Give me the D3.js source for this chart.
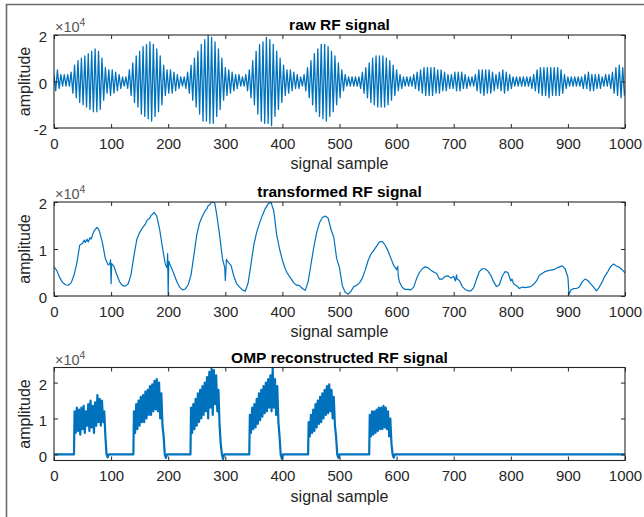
<!DOCTYPE html>
<html>
<head>
<meta charset="utf-8">
<script src="https://cdn.jsdelivr.net/npm/d3@7"></script>
<style>
  body { margin: 0; background: #fff; }
  svg { display: block; font-family: "Liberation Sans", Arial, Helvetica, sans-serif; }
</style>
</head>
<body>
<svg id="fig" width="644" height="517"></svg>
<script>
// ---------------------------------------------------------------
// Data (amplitudes in thousands; the axes show them as x10^4)
// ---------------------------------------------------------------
const sampleTicks = [0, 100, 200, 300, 400, 500, 600, 700, 800, 900, 1000];
const rawTicks = [-20, 0, 20];
const transformedTicks = [0, 10, 20];
const ompTicks = [0, 10, 20];

// raw RF signal: successive signed extremes, one every 3 samples
const rawStep = 3;
const rawExtremes = [
   3, -4,  5, -3,  3, -2,  3, -2,  3, -2,
   4, -5,  7, -7,  9, -9, 10,-10, 11,-11,
  12,-12, 13,-13, 14,-13, 13,-12, 10, -8,
   6, -5,  5, -6,  5, -5,  4, -4,  3, -3,
   2, -2,  2, -3,  5, -6,  8, -9, 11,-11,
  13,-14, 15,-15, 16,-16, 17,-17, 16,-15,
  14,-13, 11,-10,  7, -6,  5, -5,  5, -5,
   4, -4,  3, -3,  2, -2,  2, -3,  4, -5,
   7, -8, 10,-11, 13,-14, 16,-17, 18,-17,
  20,-18, 19,-18, 17,-15, 14,-12, 10, -8,
   6, -6,  5, -5,  4, -4,  3, -3,  3, -2,
   2, -2,  3, -4,  5, -7,  9,-10, 13,-14,
  16,-17, 17,-18, 19,-18, 18,-19, 16,-15,
  13,-12, 10, -9,  7, -6,  5, -5,  5, -4,
   4, -3,  3, -3,  2, -2,  3, -4,  6, -7,
   9,-10, 12,-13, 14,-15, 16,-16, 16,-17,
  15,-15, 13,-13, 11,-10,  8, -7,  5, -4,
   3, -2,  2, -2,  2, -2,  2, -2,  2, -3,
   4, -5,  6, -7,  8, -9, 10,-10, 11,-11,
  11,-11, 11,-11, 10,-10,  9, -8,  7, -6,
   5, -4,  3, -3,  2, -2,  2, -2,  2, -2,
   3, -3,  4, -4,  5, -5,  6, -6,  6, -6,
   6, -6,  6, -5,  5, -5,  5, -4,  4, -4,
   3, -3,  3, -3,  4, -4,  4, -4,  4, -3,
   3, -3,  2, -2,  2, -2,  3, -4,  5, -5,
   5, -6,  5, -5,  5, -5,  4, -4,  3, -3,
   4, -4,  5, -5,  4, -4,  3, -3,  2, -2,
   2, -2,  2, -2,  2, -2,  2, -2,  2, -3,
   3, -4,  5, -5,  6, -6,  6, -6,  6, -7,
   6, -6,  6, -6,  6, -6,  5, -5,  3, -3,
   2, -2,  2, -2,  2, -2,  2, -2,  2, -3,
   3, -3,  4, -4,  3, -4,  3, -3,  3, -3,
   2, -2,  3, -2,  3, -3,  4, -5,  6, -6,
   7, -7,  6, -6
];

// transformed RF signal: [sample, amplitude]
const transformed = [
  [0,6.2],[5,5.4],[10,3.9],[15,2.9],[20,2.4],[25,2.3],[30,2.8],[35,4.4],[40,7.0],[45,10.8],
  [50,11.2],[53,11.9],[55,11.4],[58,12.1],[60,11.5],[63,12.4],[65,12.1],[68,13.2],[70,13.8],[75,14.6],
  [78,14.2],[80,13.6],[85,11.2],[90,7.9],[95,6.6],[98,6.9],[99,7.7],[100,2.6],[101,6.9],[105,6.3],
  [110,4.5],[115,3.0],[120,2.2],[125,2.1],[130,2.6],[135,4.6],[140,8.6],[145,12.0],[150,13.5],[155,14.5],
  [158,15.0],[160,15.3],[163,16.1],[165,16.3],[168,16.6],[170,17.2],[173,17.4],[175,17.8],[177,17.5],[180,17.0],
  [185,14.2],[190,10.3],[195,6.7],[198,6.0],[199,9.0],[200,0.1],[201,7.4],[203,6.7],[205,6.2],[210,4.7],
  [215,3.1],[220,1.9],[225,1.3],[230,1.5],[235,2.4],[240,4.5],[245,8.7],[250,13.0],[255,15.6],[260,17.0],
  [265,18.2],[268,18.6],[270,19.2],[273,19.4],[275,19.9],[280,20.0],[282,19.5],[285,17.3],[290,13.0],[295,8.0],
  [299,6.0],[300,3.3],[302,7.8],[305,7.2],[310,6.5],[315,4.2],[320,2.6],[325,1.9],[330,1.3],[335,1.0],
  [340,2.8],[345,6.8],[350,10.9],[355,13.6],[360,15.5],[365,17.2],[370,18.6],[375,19.6],[380,20.0],[385,18.0],
  [390,13.0],[395,10.0],[400,7.6],[405,5.8],[408,5.0],[410,4.6],[415,3.7],[420,2.8],[425,2.3],[430,2.2],
  [435,1.6],[440,1.2],[445,3.0],[450,6.7],[455,10.4],[460,13.5],[465,15.6],[470,16.7],[475,17.0],[480,16.6],
  [485,14.2],[490,12.5],[495,8.0],[500,6.0],[505,2.2],[510,0.8],[515,0.4],[520,1.0],[525,2.0],[530,2.3],
  [535,2.8],[540,3.8],[545,5.5],[550,7.5],[555,8.9],[560,9.7],[565,10.6],[570,11.5],[575,11.6],[580,10.8],
  [585,9.6],[590,8.0],[595,6.5],[600,5.6],[602,6.3],[603,4.2],[605,3.0],[610,1.8],[615,1.4],[620,1.4],
  [625,1.3],[630,1.9],[635,3.7],[640,5.0],[645,5.8],[650,6.2],[655,6.0],[660,5.5],[665,5.1],[670,4.8],
  [675,3.6],[680,3.6],[685,4.2],[690,4.3],[695,3.8],[700,4.2],[703,3.2],[705,4.5],[706,3.6],[710,3.3],
  [715,2.0],[720,1.4],[725,1.1],[730,1.1],[735,1.8],[740,3.6],[745,5.2],[750,5.8],[755,5.8],[760,5.3],
  [765,4.4],[770,3.0],[775,2.0],[780,2.4],[785,4.2],[790,5.2],[795,5.0],[800,3.2],[802,3.6],[805,2.6],
  [810,2.2],[815,1.6],[820,1.9],[825,1.8],[830,1.9],[835,2.0],[840,2.5],[845,3.2],[850,4.4],[855,4.8],
  [860,5.2],[865,5.4],[870,5.5],[875,5.6],[880,5.9],[885,6.2],[890,6.4],[895,5.8],[900,4.0],[902,0.3],
  [905,1.2],[910,1.6],[915,1.6],[920,1.9],[925,3.0],[930,3.6],[935,3.3],[940,2.6],[945,1.9],[950,1.1],
  [955,1.9],[960,3.0],[965,4.3],[970,5.2],[975,6.3],[980,6.8],[985,6.4],[990,6.1],[995,5.6],[1000,4.9]
];

// OMP reconstruction: non-zero bursts, one value every 2 samples from each start
const ompStep = 2;
const ompBurstStarts = [36, 140, 240, 343, 446, 553];
const ompBurstValues = [
  [12, 6, 13, 6.5, 12.5, 5.5, 13, 7, 13.5, 6, 12, 8, 14, 6.5, 15, 7.5, 13.5, 6, 14.5, 8,
   16.5, 9, 15.5, 8, 15, 9, 12, 5, 0, -0.8, 0],
  [12, 6, 14, 7, 15, 8, 16, 9, 16.5, 9, 17.5, 10, 18, 11, 19, 11, 19.5, 12, 20.5, 12.5,
   21, 12, 20, 10, 17, 8, 5, 0, -1, 0],
  [13, 6, 14, 7, 15.5, 8, 17, 9, 18, 10, 19, 11, 20, 12, 21.5, 10, 23, 13, 24, 11,
   23.5, 14, 22, 12, 18, 8, 3, 0, -1.3, 0],
  [11, 6, 13, 7, 14, 7.5, 15.5, 8.5, 17, 9.5, 18, 10.5, 19, 11.5, 20, 12, 21, 13, 22, 12,
   24, 13, 21, 11, 19, 9, 5, 0, -1.2, 0],
  [9, 5, 11, 6, 12.5, 6.5, 14, 7.5, 15, 8.5, 16, 9, 17, 10, 18, 11, 19, 11.5, 19.5, 12,
   18, 10, 16, 8, 5, 0, -1, 0],
  [11, 5, 12, 5.5, 12, 6, 12.5, 6.5, 13, 7, 13, 7, 13.5, 7.5, 13, 7, 12, 5, 10, 3,
   0, -0.9, 0]
];

// ---------------------------------------------------------------
// Series built from the arrays above
// ---------------------------------------------------------------
const rawSeries = rawExtremes.map((v, i) => [i * rawStep, v]);

const ompSeries = [[0, 0]];
ompBurstStarts.forEach((s, b) => {
  ompSeries.push([s - 1, 0]);
  ompBurstValues[b].forEach((v, k) => ompSeries.push([s + k * ompStep, v]));
});
ompSeries.push([1000, 0]);

// ---------------------------------------------------------------
// Layout
// ---------------------------------------------------------------
const svg = d3.select("#fig");
const left = 54, right = 625;
const lineColor = "#0072BD";
const axisColor = "#262626";

const panels = [
  { title: "raw RF signal", top: 35, bottom: 128, domain: [-20, 20], ticks: rawTicks, data: rawSeries, width: 1.3 },
  { title: "transformed RF signal", top: 202, bottom: 296, domain: [0, 20], ticks: transformedTicks, data: transformed, width: 1.2 },
  { title: "OMP reconstructed RF signal", top: 367.5, bottom: 460.5, domain: [-1.7, 24.2], ticks: ompTicks, data: ompSeries, width: 2.2 }
];

// page frame
svg.append("path")
  .attr("d", `M6.5,517 V4.5 H644`)
  .attr("fill", "none")
  .attr("stroke", "#6b6b6b")
  .attr("stroke-width", 1.6);

const x = d3.scaleLinear().domain([0, 1000]).range([left, right]);

panels.forEach((p, idx) => {
  const y = d3.scaleLinear().domain(p.domain).range([p.bottom, p.top]);
  const g = svg.append("g");

  const clipId = "clip" + idx;
  g.append("clipPath").attr("id", clipId)
    .append("rect")
    .attr("x", left).attr("y", p.top)
    .attr("width", right - left).attr("height", p.bottom - p.top);

  // signal trace
  g.append("path")
    .datum(p.data)
    .attr("clip-path", `url(#${clipId})`)
    .attr("fill", "none")
    .attr("stroke", lineColor)
    .attr("stroke-width", p.width)
    .attr("stroke-linejoin", "round")
    .attr("d", d3.line().x(d => x(d[0])).y(d => y(d[1])));

  // axes with inward ticks on all four sides
  const bottomAxis = d3.axisBottom(x).tickValues(sampleTicks).tickSizeInner(-4).tickSizeOuter(0).tickPadding(10)
    .tickFormat(d => String(d));
  const topAxis = d3.axisTop(x).tickValues(sampleTicks).tickSizeInner(-4).tickSizeOuter(0).tickFormat("");
  const leftAxis = d3.axisLeft(y).tickValues(p.ticks).tickSizeInner(-4).tickSizeOuter(0).tickPadding(7)
    .tickFormat(d => String(d / 10));
  const rightAxis = d3.axisRight(y).tickValues(p.ticks).tickSizeInner(-4).tickSizeOuter(0).tickFormat("");

  const styleAxis = sel => {
    sel.select(".domain").remove();
    sel.selectAll("line").attr("stroke", axisColor).attr("stroke-width", 1);
    sel.selectAll("text").attr("fill", axisColor).style("font-size", "15px")
      .style("font-family", "'Liberation Sans', Arial, sans-serif");
  };

  g.append("g").attr("transform", `translate(0,${p.bottom})`).call(bottomAxis).call(styleAxis);
  g.append("g").attr("transform", `translate(0,${p.top})`).call(topAxis).call(styleAxis);
  g.append("g").attr("transform", `translate(${left},0)`).call(leftAxis).call(styleAxis)
    .selectAll("text").attr("dy", "0.45em");
  g.append("g").attr("transform", `translate(${right},0)`).call(rightAxis).call(styleAxis);

  // axes box
  g.append("rect")
    .attr("x", left).attr("y", p.top)
    .attr("width", right - left).attr("height", p.bottom - p.top)
    .attr("fill", "none").attr("stroke", axisColor).attr("stroke-width", 1.1);

  // exponent marker
  const ex = g.append("text")
    .attr("x", left + 1).attr("y", p.top - 3)
    .attr("fill", "#555").style("font-size", "14.5px");
  ex.append("tspan").text("\u00d710");
  ex.append("tspan").attr("dy", -6).style("font-size", "10.5px").text("4");

  // title
  g.append("text")
    .attr("x", (left + right) / 2).attr("y", p.top - 5)
    .attr("text-anchor", "middle")
    .attr("fill", "#000")
    .style("font-size", "15.5px").style("font-weight", "bold")
    .text(p.title);

  // axis labels
  g.append("text")
    .attr("x", (left + right) / 2).attr("y", p.bottom + 41)
    .attr("text-anchor", "middle")
    .attr("fill", axisColor)
    .style("font-size", "16px")
    .text("signal sample");

  g.append("text")
    .attr("transform", `translate(30,${(p.top + p.bottom) / 2}) rotate(-90)`)
    .attr("text-anchor", "middle")
    .attr("fill", axisColor)
    .style("font-size", "16px")
    .text("amplitude");
});
</script>
</body>
</html>
